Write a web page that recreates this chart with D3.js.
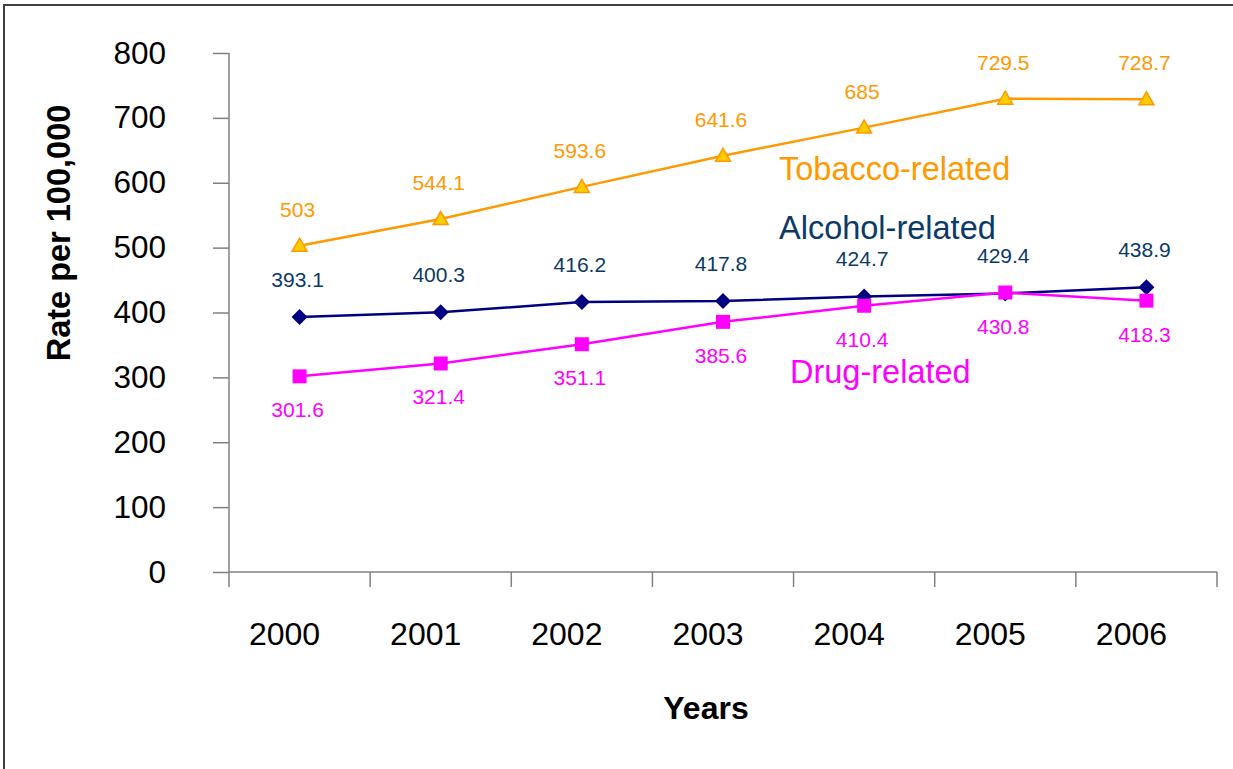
<!DOCTYPE html>
<html>
<head>
<meta charset="utf-8">
<script src="https://cdn.jsdelivr.net/npm/d3@7"></script>
<style>
  html, body { margin: 0; padding: 0; background: #fff; }
  svg { display: block; font-family: "Liberation Sans", Arial, sans-serif; }
</style>
</head>
<body>
<svg id="chart" width="1233" height="769"></svg>
<script>
// Rates per 100,000 by year
const years = ["2000", "2001", "2002", "2003", "2004", "2005", "2006"];
const tobacco = [503, 544.1, 593.6, 641.6, 685, 729.5, 728.7];
const alcohol = [393.1, 400.3, 416.2, 417.8, 424.7, 429.4, 438.9];
const drug = [301.6, 321.4, 351.1, 385.6, 410.4, 430.8, 418.3];
const yTicks = [0, 100, 200, 300, 400, 500, 600, 700, 800];

const svg = d3.select("#chart");

// outer frame (top and left edges visible)
svg.append("rect")
  .attr("x", 4).attr("y", 5)
  .attr("width", 1300).attr("height", 900)
  .attr("fill", "none").attr("stroke", "#404040").attr("stroke-width", 2);

const plotLeft = 229, plotRight = 1217, plotTop = 53, plotBottom = 572;

const x = d3.scaleBand().domain(years).range([plotLeft, plotRight]);
const y = d3.scaleLinear().domain([0, 800]).range([plotBottom, plotTop]);
const cx = d => x(d) + x.bandwidth() / 2;

// y axis
const yAxis = svg.append("g")
  .attr("transform", `translate(${plotLeft},0)`)
  .call(d3.axisLeft(y).tickValues(yTicks).tickSize(16).tickPadding(47).tickFormat(d3.format("d")));
yAxis.select(".domain").attr("stroke", "#808080").attr("stroke-width", 1.5)
  .attr("d", `M0,${plotTop}V${plotBottom}`);
yAxis.selectAll(".tick line").attr("stroke", "#808080").attr("stroke-width", 1.5);
yAxis.selectAll(".tick text").attr("font-size", 31.5).attr("fill", "#000")
  .attr("font-family", "Liberation Sans, Arial, sans-serif");

// x axis with ticks on category boundaries
const xAxisG = svg.append("g").attr("transform", `translate(0,${plotBottom})`);
xAxisG.append("line")
  .attr("x1", plotLeft).attr("x2", plotRight)
  .attr("stroke", "#808080").attr("stroke-width", 1.5);
const boundaries = years.map(d => x(d)).concat([plotRight]);
xAxisG.selectAll("line.tk").data(boundaries).join("line")
  .attr("class", "tk")
  .attr("x1", d => d).attr("x2", d => d)
  .attr("y1", 0).attr("y2", 15)
  .attr("stroke", "#808080").attr("stroke-width", 1.5);
xAxisG.selectAll("text.yr").data(years).join("text")
  .attr("class", "yr")
  .attr("x", d => cx(d) - 15).attr("y", 73)
  .attr("text-anchor", "middle")
  .attr("font-size", 32).attr("fill", "#000")
  .text(d => d);

// axis titles
svg.append("text")
  .attr("transform", "translate(70,233) rotate(-90)")
  .attr("text-anchor", "middle")
  .attr("font-size", 32.5).attr("font-weight", "bold")
  .text("Rate per 100,000");
svg.append("text")
  .attr("x", 706).attr("y", 719)
  .attr("text-anchor", "middle")
  .attr("font-size", 32).attr("font-weight", "bold")
  .text("Years");

const line = d3.line().x((d, i) => cx(years[i])).y(d => y(d));

function drawSeries(values, opts) {
  const g = svg.append("g");
  g.append("path").datum(values)
    .attr("d", line)
    .attr("fill", "none")
    .attr("stroke", opts.color)
    .attr("stroke-width", 2.5);
  g.selectAll("path.m").data(values).join("path")
    .attr("class", "m")
    .attr("transform", (d, i) => `translate(${cx(years[i])},${y(d)})`)
    .attr("d", opts.marker)
    .attr("fill", opts.fill)
    .attr("stroke", opts.markerStroke || "none")
    .attr("stroke-width", 1.5);
  g.selectAll("text.v").data(values).join("text")
    .attr("class", "v")
    .attr("x", (d, i) => cx(years[i]) - 2)
    .attr("y", d => y(d) + opts.labelDy)
    .attr("text-anchor", "middle")
    .attr("font-size", 21)
    .attr("fill", opts.labelColor)
    .text(d => d);
}

const triangle = "M0,-7.5L7.5,5.5L-7.5,5.5Z";
const diamond = "M0,-8L8,0L0,8L-8,0Z";
const square = "M-7,-7H7V7H-7Z";

drawSeries(alcohol, { color: "#000080", fill: "#000080", marker: diamond, labelColor: "#0B3A66", labelDy: -30 });
drawSeries(drug, { color: "#FF00FF", fill: "#FF00FF", marker: square, labelColor: "#FF00FF", labelDy: 41 });
drawSeries(tobacco, { color: "#FF9900", fill: "#FFCC00", markerStroke: "#FF9900", marker: triangle, labelColor: "#FF9900", labelDy: -29 });

// series names
svg.append("text").attr("x", 779).attr("y", 180).attr("font-size", 32.5).attr("fill", "#FF9900").text("Tobacco-related");
svg.append("text").attr("x", 779).attr("y", 239).attr("font-size", 32.5).attr("fill", "#0B3A66").text("Alcohol-related");
svg.append("text").attr("x", 790).attr("y", 383).attr("font-size", 32.5).attr("fill", "#FF00FF").text("Drug-related");
</script>
</body>
</html>
